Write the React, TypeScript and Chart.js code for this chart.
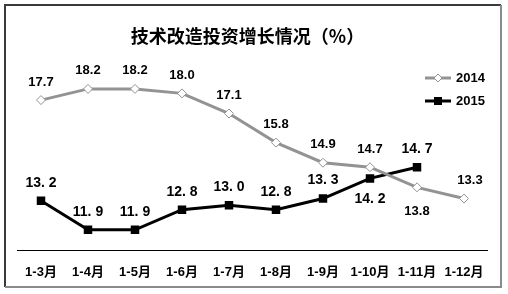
import React, { useEffect, useRef } from "react";
import { Chart, registerables } from "chart.js";

Chart.register(...registerables);

const categories = ["1-3月", "1-4月", "1-5月", "1-6月", "1-7月", "1-8月", "1-9月", "1-10月", "1-11月", "1-12月"];
const series2014 = [17.7, 18.2, 18.2, 18.0, 17.1, 15.8, 14.9, 14.7, 13.8, 13.3];
const series2015: (number | null)[] = [13.2, 11.9, 11.9, 12.8, 13.0, 12.8, 13.3, 14.2, 14.7, null];
const labelSide2014 = ["above", "above", "above", "above", "above", "above", "above", "above", "below", "above"];
const labelSide2015 = ["above", "above", "above", "above", "above", "above", "above", "below", "above", "above"];
const titleText = "技术改造投资增长情况（%）";
const legendNames = ["2014", "2015"];

const FONT = '"Liberation Sans", "Noto Sans CJK SC", sans-serif';
const GRAY = "#939393";

const decorPlugin = {
  id: "decor",
  afterDraw(chart: any) {
    const ctx = chart.ctx as CanvasRenderingContext2D;
    ctx.save();
    // frame
    ctx.lineWidth = 2;
    ctx.strokeStyle = "#3a3a3a";
    ctx.beginPath();
    ctx.moveTo(5, 287);
    ctx.lineTo(5, 5);
    ctx.lineTo(501, 5);
    ctx.stroke();
    ctx.strokeStyle = "#8a8a8a";
    ctx.beginPath();
    ctx.moveTo(501, 5);
    ctx.lineTo(501, 287);
    ctx.lineTo(5, 287);
    ctx.stroke();

    // title
    ctx.fillStyle = "#000";
    ctx.font = 'bold 18px "Noto Sans CJK SC", sans-serif';
    ctx.textAlign = "center";
    ctx.textBaseline = "middle";
    ctx.fillText(titleText, 247.5, 36);

    // data labels
    const sides = [labelSide2014, labelSide2015];
    chart.data.datasets.forEach((ds: any, di: number) => {
      const meta = chart.getDatasetMeta(di);
      ctx.font = di === 0 ? "bold 13px " + FONT : "bold 14px " + FONT;
      meta.data.forEach((pt: any, i: number) => {
        const v = ds.data[i];
        if (v === null || v === undefined) return;
        const below = sides[di][i] === "below";
        const dy = below ? (di === 0 ? 24 : 21) : -18;
        const dx = di === 0 && i === ds.data.length - 1 ? 6 : 0;
        const txt = di === 0 ? v.toFixed(1) : v.toFixed(1).replace(".", ". ");
        ctx.fillStyle = "#000";
        ctx.textAlign = "center";
        ctx.textBaseline = "middle";
        ctx.fillText(txt, pt.x + dx, pt.y + dy);
      });
    });

    // legend
    const rows = [78, 101];
    rows.forEach((y, k) => {
      ctx.lineWidth = 3;
      ctx.strokeStyle = k === 0 ? GRAY : "#000";
      ctx.beginPath();
      ctx.moveTo(425, y);
      ctx.lineTo(451, y);
      ctx.stroke();
      if (k === 0) {
        ctx.fillStyle = "#fff";
        ctx.strokeStyle = GRAY;
        ctx.lineWidth = 1;
        ctx.beginPath();
        ctx.moveTo(438, y - 4);
        ctx.lineTo(442, y);
        ctx.lineTo(438, y + 4);
        ctx.lineTo(434, y);
        ctx.closePath();
        ctx.fill();
        ctx.stroke();
      } else {
        ctx.fillStyle = "#000";
        ctx.fillRect(434, y - 4, 8, 8);
      }
      ctx.fillStyle = "#000";
      ctx.font = "bold 13px " + FONT;
      ctx.textAlign = "left";
      ctx.textBaseline = "middle";
      ctx.fillText(legendNames[k], 456, y);
    });
    ctx.restore();
  },
};

export default function App() {
  const ref = useRef<HTMLCanvasElement | null>(null);
  useEffect(() => {
    if (!ref.current) return;
    const chart = new Chart(ref.current, {
      type: "line",
      data: {
        labels: categories,
        datasets: [
          {
            label: legendNames[0],
            data: series2014,
            borderColor: GRAY,
            borderWidth: 3,
            pointStyle: "rectRot",
            pointRadius: 4.5,
            pointBackgroundColor: "#fff",
            pointBorderColor: GRAY,
            pointBorderWidth: 1,
            tension: 0,
          },
          {
            label: legendNames[1],
            data: series2015,
            borderColor: "#000",
            borderWidth: 3,
            pointStyle: "rect",
            pointRadius: 6,
            pointBackgroundColor: "#000",
            pointBorderColor: "#000",
            pointBorderWidth: 0,
            tension: 0,
          },
        ],
      },
      options: {
        responsive: false,
        animation: false,
        devicePixelRatio: 1,
        layout: { padding: { left: 17.5, right: 20.5, top: 71, bottom: -1.6 } },
        plugins: {
          legend: { display: false },
          title: { display: false },
          tooltip: { enabled: false },
        },
        scales: {
          x: {
            offset: true,
            grid: { display: false, drawTicks: false },
            border: { display: true, color: "#000", width: 1 },
            ticks: {
              padding: 15,
              color: "#000",
              font: { family: FONT, size: 13, weight: "bold" },
              maxRotation: 0,
              autoSkip: false,
            },
          },
          y: {
            display: false,
            min: 11,
            max: 19,
          },
        },
      },
      plugins: [decorPlugin],
    });
    return () => chart.destroy();
  }, []);
  return (
    <div style={{ position: "absolute", left: 0, top: 0, width: 508, height: 294, background: "#fff" }}>
      <canvas ref={ref} width={508} height={294} style={{ display: "block" }} />
    </div>
  );
}
